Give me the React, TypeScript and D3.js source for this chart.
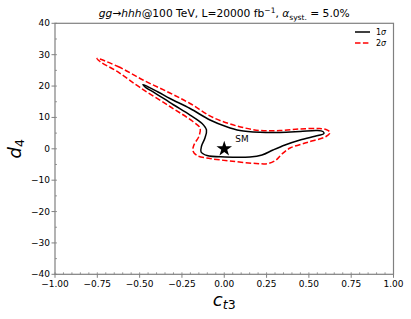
import * as d3 from "d3";

// axis ticks
const xTicks = [-1, -0.75, -0.5, -0.25, 0, 0.25, 0.5, 0.75, 1];
const yTicks = [-40, -30, -20, -10, 0, 10, 20, 30, 40];

// 1 sigma contour (c_t3, d_4)
const oneSigmaCt3 = [
  -0.48, -0.391, -0.321, -0.202, -0.084, 0.01, 0.093, 0.211, 0.329, 0.448, 0.548, 0.583, 0.589,
  0.554, 0.448, 0.359, 0.288, 0.223, 0.152, 0.004, -0.102, -0.137, -0.134, -0.114, -0.105, -0.131,
  -0.202, -0.303, -0.409, -0.468,
];
const oneSigmaD4 = [
  20.49, 18.1, 16.03, 12.84, 9.18, 7.11, 5.83, 5.26, 5.2, 5.51, 5.83, 5.51, 4.88,
  4.24, 2.8, 1.21, -0.38, -1.98, -2.61, -2.61, -2.14, -1.02, 0.89, 3.44, 5.99, 8.06,
  10.77, 14.12, 17.78, 19.7,
];

// 2 sigma contour (c_t3, d_4)
const twoSigmaCt3 = [
  -0.752, -0.628, -0.48, -0.321, -0.202, -0.066, 0.075, 0.211, 0.329, 0.448, 0.554, 0.601, 0.625,
  0.601, 0.489, 0.389, 0.341, 0.306, 0.259, 0.188, 0.034, -0.084, -0.161, -0.185, -0.179, -0.149,
  -0.143, -0.185, -0.321, -0.498, -0.628, -0.734,
];
const twoSigmaD4 = [
  28.78, 26.23, 21.93, 17.78, 14.44, 9.98, 7.27, 5.83, 5.83, 6.31, 6.47, 6.15, 5.2,
  3.92, 2.01, 0.25, -1.66, -3.57, -4.69, -4.69, -3.89, -3.09, -2.14, -0.7, 1.21, 4.08,
  6.63, 8.7, 13.48, 19.54, 24.48, 27.82,
];

const smPoint = { ct3: 0, d4: 0 };

const W = 411;
const H = 319;
const margin = { top: 23.3, right: 17.5, bottom: 44.7, left: 55 };
const font = "DejaVu Sans";
const axisColor = "#808080";

const fmtMinus = (s: string) => s.replace("-", "\u2212");

function App() {
  const x = d3.scaleLinear().domain([-1, 1]).range([margin.left, W - margin.right]);
  const y = d3.scaleLinear().domain([-40, 40]).range([H - margin.bottom, margin.top]);

  const line = d3
    .line<[number, number]>()
    .x((d) => x(d[0]))
    .y((d) => y(d[1]))
    .curve(d3.curveCatmullRomClosed.alpha(0.5));

  const one = oneSigmaCt3.map((c, i) => [c, oneSigmaD4[i]] as [number, number]);
  const two = twoSigmaCt3.map((c, i) => [c, twoSigmaD4[i]] as [number, number]);

  const xMinor = d3.range(-1, 1.0001, 0.05);
  const yMinor = d3.range(-40, 40.001, 5);

  const x0 = margin.left;
  const x1 = W - margin.right;
  const y0 = H - margin.bottom;
  const y1 = margin.top;
  const cx = (x0 + x1) / 2;

  const star = d3.symbol(d3.symbolStar, 75)();

  return (
    <svg
      width={W}
      height={H}
      style={{ position: "absolute", left: 0, top: 0, background: "#fff" }}
      fontFamily={font}
    >
      {/* Title */}
      <text x={cx} y={17} textAnchor="middle" fontSize={10.7} fill="#000">
        <tspan fontStyle="italic">gg</tspan>
        <tspan>{"\u2192"}</tspan>
        <tspan fontStyle="italic">hhh</tspan>
        <tspan>@100 TeV, L=20000 fb</tspan>
        <tspan fontSize={7.5} dy={-4}>{"\u22121"}</tspan>
        <tspan dy={4}>, </tspan>
        <tspan fontStyle="italic">{"\u03b1"}</tspan>
        <tspan fontSize={7.5} dy={2.5}>syst.</tspan>
        <tspan dy={-2.5}> = 5.0%</tspan>
      </text>

      {/* Contours */}
      <path d={line(two) ?? ""} fill="none" stroke="#ff0000" strokeWidth={1.5} strokeDasharray="5.5,2.4" />
      <path d={line(one) ?? ""} fill="none" stroke="#000" strokeWidth={1.5} />

      {/* SM point */}
      <path d={star ?? ""} transform={`translate(${x(smPoint.ct3)},${y(smPoint.d4)})`} fill="#000" />
      <text x={x(0.065)} y={y(2.1)} fontSize={8.9} fill="#000">
        SM
      </text>

      {/* Frame */}
      <rect x={x0} y={y1} width={x1 - x0} height={y0 - y1} fill="none" stroke={axisColor} strokeWidth={1.2} />

      {/* X ticks */}
      {xMinor.map((t) => (
        <line key={"xm" + t} x1={x(t)} x2={x(t)} y1={y0} y2={y0 - 2} stroke={axisColor} strokeWidth={0.8} />
      ))}
      {xTicks.map((t) => (
        <g key={"x" + t}>
          <line x1={x(t)} x2={x(t)} y1={y0} y2={y0 + 3.5} stroke={axisColor} strokeWidth={1} />
          <text x={x(t)} y={287} textAnchor="middle" fontSize={9} fill="#000">
            {fmtMinus(t.toFixed(2))}
          </text>
        </g>
      ))}

      {/* Y ticks */}
      {yMinor.map((t) => (
        <line key={"ym" + t} x1={x0} x2={x0 + 2} y1={y(t)} y2={y(t)} stroke={axisColor} strokeWidth={0.8} />
      ))}
      {yTicks.map((t) => (
        <g key={"y" + t}>
          <line x1={x0 - 3.5} x2={x0} y1={y(t)} y2={y(t)} stroke={axisColor} strokeWidth={1} />
          <text x={x0 - 5} y={y(t)} dy="0.33em" textAnchor="end" fontSize={9} fill="#000">
            {fmtMinus(String(t))}
          </text>
        </g>
      ))}

      {/* Axis labels */}
      <text x={cx} y={306} textAnchor="middle" fontSize={18} fill="#000">
        <tspan fontStyle="italic">c</tspan>
        <tspan fontSize={12.5} dy={3} fontStyle="italic">t</tspan>
        <tspan fontSize={12.5}>3</tspan>
      </text>
      <text transform={`translate(21,${(y0 + y1) / 2}) rotate(-90)`} textAnchor="middle" fontSize={18} fill="#000">
        <tspan fontStyle="italic">d</tspan>
        <tspan fontSize={12.5} dy={3}>4</tspan>
      </text>

      {/* Legend */}
      <line x1={355} x2={370} y1={32} y2={32} stroke="#000" strokeWidth={1.5} />
      <line x1={355} x2={370} y1={43} y2={43} stroke="#ff0000" strokeWidth={1.5} strokeDasharray="5.5,2.4" />
      <text x={376} y={35} fontSize={8} fill="#000">
        1<tspan fontStyle="italic">{"\u03c3"}</tspan>
      </text>
      <text x={376} y={46} fontSize={8} fill="#000">
        2<tspan fontStyle="italic">{"\u03c3"}</tspan>
      </text>
    </svg>
  );
}

export default App;
